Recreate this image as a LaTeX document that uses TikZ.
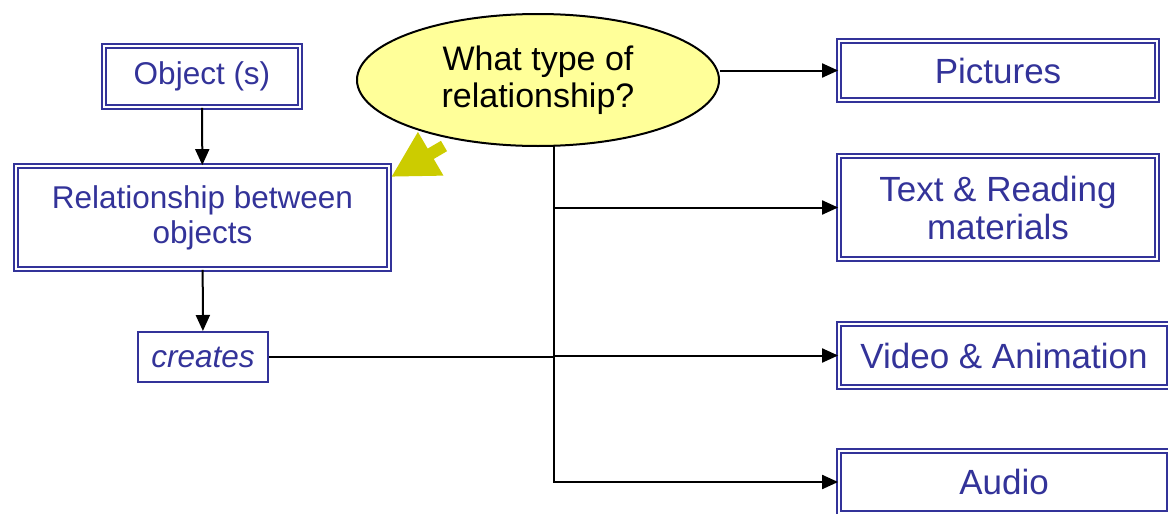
\documentclass[tikz,border=0pt]{standalone}
\usepackage{fontspec}
\setmainfont{Liberation Sans}
\usetikzlibrary{arrows.meta,shapes.geometric}
\definecolor{boxblue}{HTML}{333399}
\definecolor{qyellow}{HTML}{FFFF99}
\definecolor{hintyellow}{HTML}{CCCC00}
\tikzset{
  dbox/.style={draw=boxblue, double=white, double distance=2pt, line width=1.8pt, text=boxblue, align=center, inner sep=0pt},
  sbox/.style={draw=boxblue, line width=2pt, text=boxblue, inner sep=0pt},
  conn/.style={line width=2pt, -{Triangle[length=16pt,width=14pt]}},
  hint/.style={draw=hintyellow, line width=12pt, -{Triangle[length=46pt,width=47pt]}},
  lfont/.style={font=\fontsize{31.5}{35}\selectfont},
  rfont/.style={font=\fontsize{35}{38}\selectfont}
}
\begin{document}
\begin{tikzpicture}[x=1pt,y=-1pt,font=\fontsize{34}{37}\selectfont]
      \clip (0,0) rectangle (1168,514);
      \node[dbox, lfont, minimum width=196pt, minimum height=61pt] (ob) at (202,76.5) {Object (s)};
      \node[dbox, lfont, minimum width=373pt, minimum height=103pt] (rel) at (202.5,217.5) {Relationship between\\objects};
      \node[sbox, lfont, minimum width=130pt, minimum height=50pt] (cr) at (203,357) {\itshape creates};
      \node[ellipse, draw, fill=qyellow, line width=2pt, minimum width=362pt, minimum height=132pt, inner sep=0pt, align=center] (q) at (538,80) {What type of\\relationship?};
      \foreach \n/\x/\y/\w/\h/\t in {pic/998/70.5/318pt/59pt/Pictures, tx/998/207.5/318pt/103pt/{Text \& Reading\\materials}, vd/1004/355.5/330pt/63pt/{Video \& Animation}, au/1004/482/330pt/62pt/Audio} {
        \node[dbox, rfont, minimum width=\w, minimum height=\h] (\n) at (\x,\y) {\t};
      }
      \coordinate (trunk) at (554,146);
      \coordinate (hs) at (444,146);
      \coordinate (ht) at (391,177);
      \draw[conn] (ob) -- (rel);
      \draw[conn] (rel) -- (cr);
      \draw[conn] (q.east |- pic.west) -- (pic.west);
      \draw[conn] (trunk) |- (au.west);
      \foreach \n in {tx,vd} {
        \draw[conn] (trunk |- \n.west) -- (\n.west);
      }
      \draw[line width=2pt] (cr.east) -- (cr.east -| trunk);
      \draw[hint] (hs) -- (ht);
    \end{tikzpicture}
\end{document}
